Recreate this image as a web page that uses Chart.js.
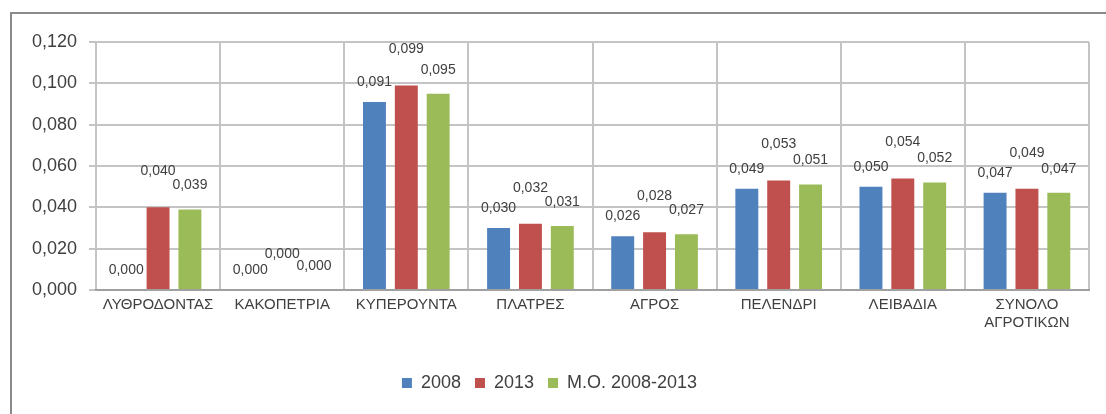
<!DOCTYPE html>
<html>
<head>
<meta charset="utf-8">
<script src="https://cdn.jsdelivr.net/npm/chart.js@4"></script>
<style>
    body { margin: 0; background: #fff; }
    #frame {
        position: absolute; left: 10px; top: 12px; width: 1110px; height: 420px;
        border-left: 2px solid #8a8a8a; border-top: 2px solid #8a8a8a;
    }
    #wrap { position: absolute; left: 0; top: 0; width: 1106px; height: 414px; }
</style>
</head>
<body>
<div id="frame"></div>
<div id="wrap"><canvas id="chart"></canvas></div>
<script>
// Categories and series
const categories = ['ΛΥΘΡΟΔΟΝΤΑΣ', 'ΚΑΚΟΠΕΤΡΙΑ', 'ΚΥΠΕΡΟΥΝΤΑ', 'ΠΛΑΤΡΕΣ', 'ΑΓΡΟΣ', 'ΠΕΛΕΝΔΡΙ', 'ΛΕΙΒΑΔΙΑ', ['ΣΥΝΟΛΟ', 'ΑΓΡΟΤΙΚΩΝ']];
const values2008 = [0.000, 0.000, 0.091, 0.030, 0.026, 0.049, 0.050, 0.047];
const values2013 = [0.040, 0.000, 0.099, 0.032, 0.028, 0.053, 0.054, 0.049];
const valuesAvg = [0.039, 0.000, 0.095, 0.031, 0.027, 0.051, 0.052, 0.047];
const seriesNames = ['2008', '2013', 'Μ.Ο. 2008-2013'];
const yTicks = [0, 0.02, 0.04, 0.06, 0.08, 0.10, 0.12];

const fmt = v => v.toFixed(3).replace('.', ',');

// Data labels above each bar (Excel style, 2013 label sits a bit higher)
const labelOffsets = [20, 36, 24];
const barLabels = {
    id: 'barLabels',
    afterDatasetsDraw(chart) {
        const ctx = chart.ctx;
        ctx.save();
        ctx.font = '14px "Liberation Sans", sans-serif';
        ctx.fillStyle = '#404040';
        ctx.textAlign = 'center';
        ctx.textBaseline = 'middle';
        chart.data.datasets.forEach((ds, i) => {
            chart.getDatasetMeta(i).data.forEach((bar, j) => {
                ctx.fillText(fmt(ds.data[j]), bar.x, bar.y - labelOffsets[i]);
            });
        });
        ctx.restore();
    }
};

const ctx = document.getElementById('chart').getContext('2d');
new Chart(ctx, {
    type: 'bar',
    data: {
        labels: categories,
        datasets: [
            { label: seriesNames[0], data: values2008, backgroundColor: '#4F81BD' },
            { label: seriesNames[1], data: values2013, backgroundColor: '#C0504D' },
            { label: seriesNames[2], data: valuesAvg, backgroundColor: '#9BBB59' }
        ]
    },
    options: {
        responsive: true,
        maintainAspectRatio: false,
        animation: false,
        categoryPercentage: 0.77,
        barPercentage: 0.72,
        layout: { padding: { left: 10, top: 42, right: 17, bottom: 12 } },
        plugins: {
            tooltip: { enabled: false },
            legend: {
                position: 'bottom',
                labels: {
                    boxWidth: 10,
                    boxHeight: 10,
                    padding: 14,
                    color: '#404040',
                    font: { family: '"Liberation Sans", sans-serif', size: 18 }
                }
            }
        },
        scales: {
            x: {
                grid: { color: '#c4c4c4', lineWidth: 2, offset: true, tickLength: 0 },
                border: { color: '#a0a0a0', width: 2 },
                ticks: {
                    color: '#404040',
                    maxRotation: 0,
                    padding: 6,
                    font: { family: '"Liberation Sans", sans-serif', size: 15 }
                },
                afterFit(scale) { scale.height = 70; }
            },
            y: {
                min: 0,
                max: 0.12,
                afterBuildTicks(scale) { scale.ticks = yTicks.map(v => ({ value: v })); },
                grid: { color: '#c4c4c4', lineWidth: 2, tickLength: 7 },
                border: { display: false },
                ticks: {
                    color: '#404040',
                    padding: 12,
                    font: { family: '"Liberation Sans", sans-serif', size: 18 },
                    callback: v => fmt(v)
                },
                afterFit(scale) { scale.width = 86; }
            }
        }
    },
    plugins: [barLabels]
});
</script>
</body>
</html>
